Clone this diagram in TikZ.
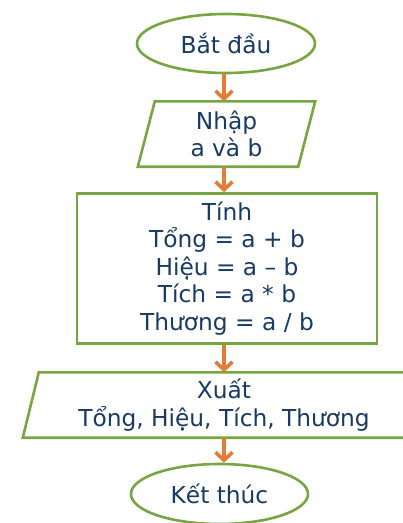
\documentclass[tikz,border=0pt]{standalone}
\usepackage{fontspec}
\setmainfont{DejaVu Sans}
\usetikzlibrary{shapes.geometric,arrows.meta,calc}
\definecolor{edgegreen}{RGB}{119,165,66}
\definecolor{flowarrow}{RGB}{228,124,56}
\definecolor{labelblue}{RGB}{24,58,100}
\begin{document}
\begin{tikzpicture}[x=1pt,y=-1pt,
  label/.style={text=labelblue,font=\fontsize{23.3}{27.5}\selectfont,align=center,inner sep=0pt},
  terminal/.style={label,ellipse,draw=edgegreen,line width=2.6pt,fill=white},
  frame/.style={label,rectangle,minimum height=65pt},
  procbox/.style={label,rectangle,draw=edgegreen,line width=2.6pt,fill=white},
  outline/.style={draw=edgegreen,line width=2.6pt,line join=miter},
  flow/.style={draw=flowarrow,line width=3.6pt,-{Straight Barb[length=8pt,width=17pt]}}]
\useasboundingbox (0,0) rectangle (403,523);
\clip (0,0) rectangle (403,523);
\fill[white] (0,0) rectangle (403,523);

% start terminal
\node[terminal,minimum width=178pt,minimum height=59pt] (start) at (226,43.5) {Bắt đầu};

% input parallelogram
\node[frame,minimum width=177pt] (input) at (226.5,134) {Nhập\\a và b};
\draw[outline] ($(input.north west)+(17,0)$) -- (input.north east)
  -- ($(input.south east)-(17,0)$) -- (input.south west) -- cycle;

% computation box
\node[procbox,minimum width=300pt,minimum height=150pt] (calc) at (227,268.5)
  {Tính\\Tổng = a + b\\Hiệu = a – b\\Tích = a * b\\Thương = a / b};

% output parallelogram
\node[frame,minimum width=402pt] (output) at (224,405) {Xuất\\Tổng, Hiệu, Tích, Thương};
\draw[outline] ($(output.north west)+(16,0)$) -- (output.north east)
  -- ($(output.south east)-(16,0)$) -- (output.south west) -- cycle;

% end terminal
\node[terminal,minimum width=177pt,minimum height=60pt] (stop) at (219.5,494) {Kết thúc};

% connectors
\draw[flow] (start.south -| 224,0) -- (input.north -| 224,0);
\draw[flow] (input.south -| 224,0) -- (calc.north -| 224,0);
\draw[flow] (calc.south -| 224,0) -- (output.north -| 224,0);
\draw[flow] (output.south -| 224,0) -- (stop.north -| 224,0);
\end{tikzpicture}
\end{document}
